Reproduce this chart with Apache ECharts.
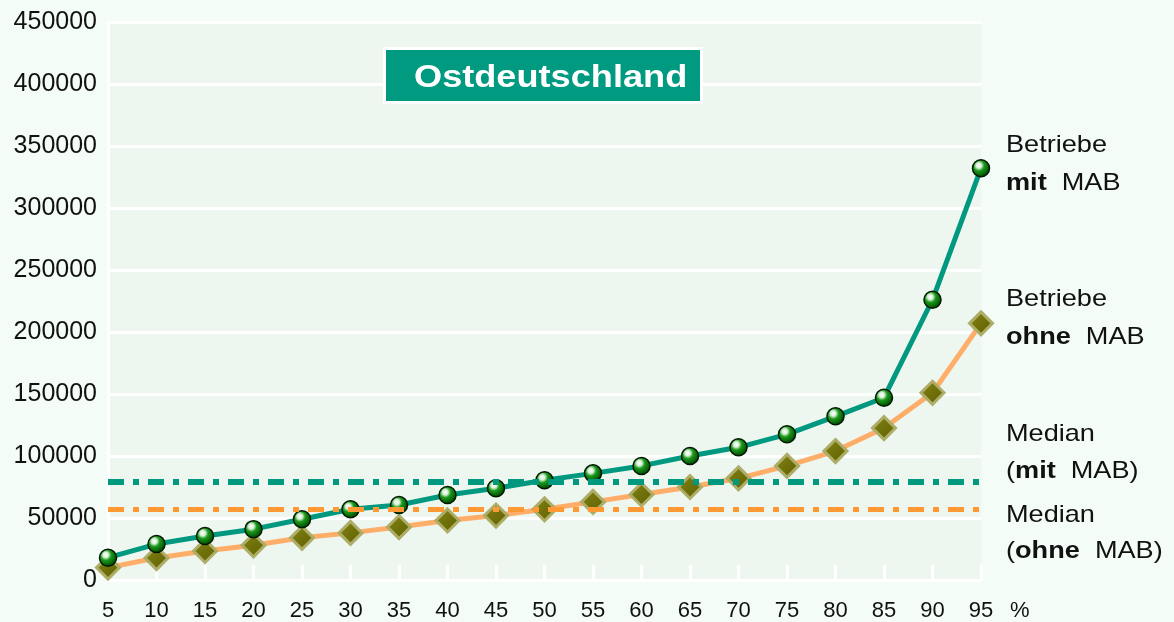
<!DOCTYPE html>
<html><head><meta charset="utf-8">
<script src="https://cdn.jsdelivr.net/npm/echarts@6/dist/echarts.min.js"></script>
<style>html,body{margin:0;padding:0;background:#f3fcf6;}#c{width:1174px;height:622px;}</style>
</head><body><div id="c"></div>
<script>
const categories = ['5','10','15','20','25','30','35','40','45','50','55','60','65','70','75','80','85','90','95'];
const mitMAB  = [18000,29000,35500,41000,49000,57000,60500,68500,74000,80500,86000,92000,100000,107000,117500,132000,147000,226000,332000];
const ohneMAB = [10000,17700,23400,28000,34000,38000,42700,48000,52000,57000,63000,69000,75000,82000,92000,104000,122500,151000,207000];
const medianMit = 79000;
const medianOhne = 57000;
const yTicks = {min:0, max:450000, interval:50000};

const chart = echarts.init(document.getElementById('c'), null, {renderer:'canvas'});
const ball = new echarts.graphic.RadialGradient(0.38,0.35,0.65,[
  {offset:0,color:'#ffffff'},{offset:0.22,color:'#d8f0d8'},{offset:0.45,color:'#1a9a1a'},{offset:1,color:'#004400'}]);
const dia = new echarts.graphic.LinearGradient(0,0,1,1,[
  {offset:0,color:'#858515'},{offset:1,color:'#5c5c00'}]);
const F = 'Liberation Sans';
const SX = 1.13;
const line = (text, y) => ({type:'text', x:1006, y:y, scaleX:SX, z:10,
  style:{text:text, fontSize:24, fontFamily:F, fill:'#111', verticalAlign:'middle',
    rich:{b:{fontWeight:'bold', fontSize:24, fontFamily:F, fill:'#111'},
          n:{fontSize:24, fontFamily:F, fill:'#111'}}}});
chart.setOption({
  backgroundColor:'#f3fcf6',
  animation:false,
  grid:{left:108, right:193, top:22, bottom:42, show:true, backgroundColor:'#edf7ef', borderWidth:0},
  xAxis:{type:'category', data:categories, boundaryGap:false,
    axisLine:{show:true, lineStyle:{color:'#ffffff', width:3}},
    axisTick:{show:true, inside:true, length:15, alignWithLabel:true, lineStyle:{color:'#ffffff', width:3}},
    axisLabel:{fontSize:22, color:'#111', fontFamily:F, margin:20},
    splitLine:{show:false}},
  yAxis:{type:'value', min:yTicks.min, max:yTicks.max, interval:yTicks.interval,
    axisLine:{show:true, lineStyle:{color:'#ffffff', width:3}},
    axisTick:{show:false},
    axisLabel:{fontSize:25, color:'#111', fontFamily:F, margin:11, formatter:v => String(v)},
    splitLine:{show:true, lineStyle:{color:'#ffffff', width:3}}},
  series:[
    {name:'ohne MAB', type:'line', data:ohneMAB, z:3,
      lineStyle:{color:'#ffae6a', width:5},
      symbol:'diamond', symbolSize:[23,23],
      itemStyle:{color:dia, borderColor:'#adad68', borderWidth:3},
      markLine:{silent:true, symbol:'none', label:{show:false},
        lineStyle:{color:'#ff9933', width:5, type:[16,9,6,9]},
        data:[{yAxis:medianOhne}]}},
    {name:'mit MAB', type:'line', data:mitMAB, z:4,
      lineStyle:{color:'#00997f', width:5},
      symbol:'circle', symbolSize:17,
      itemStyle:{color:ball, borderColor:'#001a00', borderWidth:1.5},
      markLine:{silent:true, symbol:'none', label:{show:false},
        lineStyle:{color:'#00997f', width:6, type:[16,9,6,9]},
        data:[{yAxis:medianMit}]}}
  ],
  graphic:[
    {type:'rect', shape:{x:384.5, y:48.5, width:317, height:54}, z:10,
      style:{fill:'#009a80', stroke:'#ffffff', lineWidth:3}},
    {type:'text', x:414, y:78, scaleX:SX, z:11,
      style:{text:'Ostdeutschland', fontSize:32, fontWeight:'bold', fontFamily:F, fill:'#ffffff', verticalAlign:'middle'}},
    line('Betriebe', 145),
    line('{b|mit}{n|  MAB}', 183),
    line('Betriebe', 299),
    line('{b|ohne}{n|  MAB}', 337),
    line('Median', 434),
    line('{n|(}{b|mit}{n|  MAB)}', 471),
    line('Median', 515),
    line('{n|(}{b|ohne}{n|  MAB)}', 551),
    {type:'text', x:1010, y:611, style:{text:'%', fontSize:22, fontFamily:F, fill:'#111', verticalAlign:'middle'}}
  ]
});
</script></body></html>
